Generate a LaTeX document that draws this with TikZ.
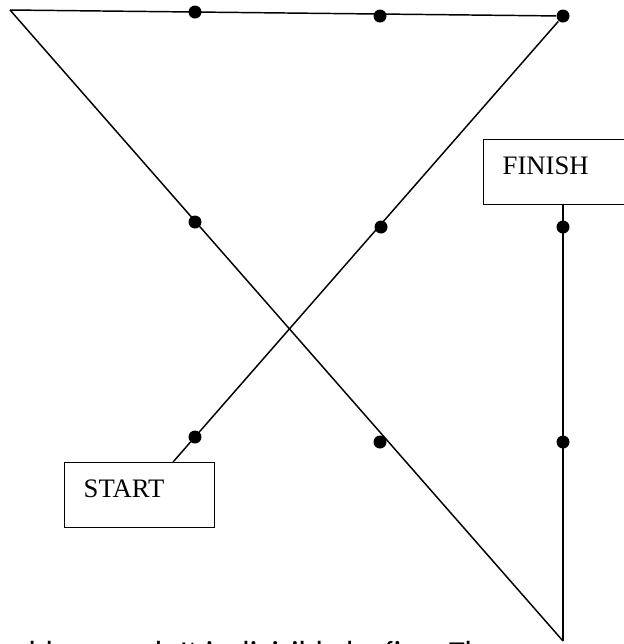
\documentclass[tikz,border=0pt]{standalone}
\usepackage{fontspec}
\setmainfont{Liberation Serif}
\newfontfamily\notefont{Carlito}
\usetikzlibrary{calc}

\begin{document}
\begin{tikzpicture}[x=0.75pt, y=-0.75pt, line width=1.1pt,
  dot/.style={circle, fill, inner sep=0pt, minimum size=9.75pt},
  endbox/.style={draw, anchor=north west, align=left, font=\fontsize{20}{24}\selectfont,
    inner xsep=14.25pt, inner ysep=12.75pt, text height=13.3pt, text depth=9.75pt}]

\useasboundingbox (0,0) rectangle (624,644);

%the nine dots, row by row
\node[dot] (d11) at (195,12) {};
\node[dot] (d12) at (380,16) {};
\node[dot] (d13) at (563,16) {};
\node[dot] (d21) at (195,222) {};
\node[dot] (d22) at (381,227) {};
\node[dot] (d23) at (563,227) {};
\node[dot] (d31) at (195,437) {};
\node[dot] (d32) at (380,442) {};
\node[dot] (d33) at (563,442) {};

%corners of the path
\coordinate (tl) at (10,10);
\coordinate (br) at (563,641);

%start and finish boxes
\node[endbox, text width=84pt] (start) at (64,462) {START};
\node[endbox, text width=89.25pt] (finish) at (483,139) {FINISH};

%the four lines
\draw ($(start.north west)!0.72!(start.north east)$) -- (d13);
\draw (d13) -- (tl);
\draw (tl) -- (br);
\draw (br) -- (br |- finish.south);

%cut off text below
\node[anchor=base west, inner sep=0pt, font=\notefont\fontsize{24}{28}\selectfont] (note) at (28,663) {ble scored. It is divisible by five. The};

\end{tikzpicture}
\end{document}
